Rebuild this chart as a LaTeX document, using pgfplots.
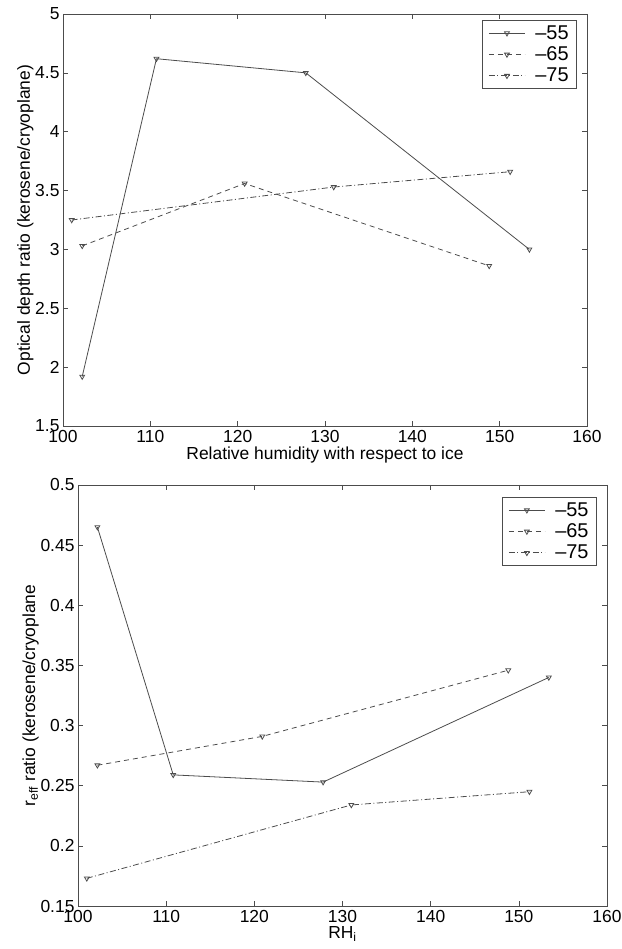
\documentclass[border=0pt]{standalone}
\usepackage{pgfplots}
\pgfplotsset{compat=1.18}
\usepackage{fontspec}
\setmainfont{Liberation Sans}

\pgfplotsset{
  matlab/.style={
    scale only axis,
    xmin=100, xmax=160,
    xtick={100,110,...,160},
    tick align=inside,
    tick pos=both,
    major tick length=5bp,
    axis line style={black!70, line width=0.9bp},
    tick style={black!70, line width=0.6bp},
    tick label style={font=\fontsize{17.5}{20}\selectfont},
    label style={font=\fontsize{17.5}{20}\selectfont},
    /pgf/number format/assume math mode=true,
    xticklabel style={yshift=-1bp},
    legend cell align=left,
    legend style={font=\fontsize{20}{23}\selectfont, draw=black!70, line width=0.9bp,
      inner xsep=6bp, inner ysep=3bp, row sep=2bp},
    legend image code/.code={
      \draw[##1, mark=none] (0bp,0bp) -- (36bp,0bp);
      \draw[##1, only marks] plot coordinates {(18bp,0bp)};
    },
  },
  s55/.style={black!70, line width=0.8bp, mark=triangle, mark options={solid, rotate=180, scale=1.4, fill=white}},
  s65/.style={black!70, line width=0.8bp, dash pattern=on 5bp off 4bp, mark=triangle, mark options={solid, rotate=180, scale=1.4, fill=white}},
  s75/.style={black!70, line width=0.8bp, dash pattern=on 6bp off 2.5bp on 1bp off 2.5bp, mark=triangle, mark options={solid, rotate=180, scale=1.4, fill=white}},
}

\begin{document}
\begin{tikzpicture}[x=1bp, y=1bp]
\path[use as bounding box] (0,0) rectangle (622,949);

% top panel: optical depth ratio
\begin{axis}[matlab,
  at={(63bp,523bp)}, anchor=south west,
  width=524bp, height=412bp,
  ymin=1.5, ymax=5,
  ytick={1.5,2,...,5},
  yticklabels={1.5,2,2.5,3,3.5,4,4.5,5},
  xlabel={Relative humidity with respect to ice},
  ylabel={Optical depth ratio (kerosene/cryoplane)},
  xlabel style={yshift=3bp},
  ylabel style={yshift=-5bp},
  legend style={at={(0.981,0.985)}, anchor=north east},
]
\addplot[s55] coordinates {(102.2,1.92) (110.7,4.62) (127.8,4.50) (153.4,3.00)};
\addlegendentry{\hspace{8bp}--55}
\addplot[s65] coordinates {(102.2,3.03) (120.8,3.56) (148.8,2.86)};
\addlegendentry{\hspace{8bp}--65}
\addplot[s75] coordinates {(101.0,3.25) (131.0,3.53) (151.2,3.66)};
\addlegendentry{\hspace{8bp}--75}
\end{axis}

% bottom panel: effective radius ratio
\begin{axis}[matlab,
  at={(78bp,43bp)}, anchor=south west,
  width=529bp, height=421bp,
  ymin=0.15, ymax=0.5,
  ytick={0.15,0.2,...,0.5},
  yticklabels={0.15,0.2,0.25,0.3,0.35,0.4,0.45,0.5},
  xlabel={RH$_{\mathrm{i}}$},
  ylabel={r$_{\mathrm{eff}}$ ratio (kerosene/cryoplane},
  xlabel style={yshift=3bp},
  ylabel style={yshift=-5bp},
  legend style={at={(0.981,0.971)}, anchor=north east},
]
\addplot[s55] coordinates {(102.2,0.465) (110.8,0.259) (127.8,0.253) (153.4,0.340)};
\addlegendentry{\hspace{8bp}--55}
\addplot[s65] coordinates {(102.2,0.267) (120.9,0.291) (148.8,0.346)};
\addlegendentry{\hspace{8bp}--65}
\addplot[s75] coordinates {(101.0,0.173) (131.0,0.234) (151.2,0.245)};
\addlegendentry{\hspace{8bp}--75}
\end{axis}
\end{tikzpicture}
\end{document}
